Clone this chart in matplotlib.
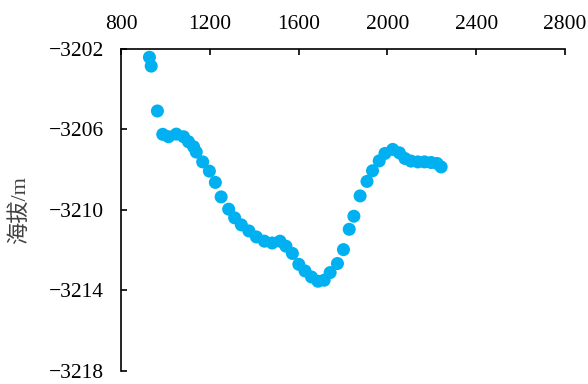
import matplotlib
matplotlib.use("Agg")
from matplotlib import pyplot as plt

# distance along the profile and elevation
dist = [928, 936, 964, 988, 1014, 1049, 1082, 1104, 1127, 1139, 1168, 1198,
        1225, 1251, 1285, 1312, 1342, 1376, 1410, 1446, 1481, 1516, 1543, 1572,
        1601, 1629, 1658, 1687, 1715, 1742, 1775, 1802, 1828, 1849, 1877, 1908,
        1933, 1963, 1989, 2024, 2054, 2079, 2106, 2137, 2167, 2197, 2224, 2242]
elev = [-3202.41, -3202.85, -3205.08, -3206.24, -3206.36, -3206.23, -3206.36,
        -3206.61, -3206.86, -3207.12, -3207.61, -3208.07, -3208.63, -3209.35,
        -3209.96, -3210.39, -3210.74, -3211.04, -3211.34, -3211.55, -3211.64,
        -3211.55, -3211.80, -3212.16, -3212.70, -3213.03, -3213.33, -3213.54,
        -3213.49, -3213.11, -3212.66, -3211.97, -3210.96, -3210.31, -3209.30,
        -3208.58, -3208.05, -3207.56, -3207.19, -3206.99, -3207.16, -3207.44,
        -3207.57, -3207.61, -3207.61, -3207.64, -3207.69, -3207.86]

xticks = [800, 1200, 1600, 2000, 2400, 2800]
yticks = [-3202, -3206, -3210, -3214, -3218]

plt.rcParams['font.family'] = ['Liberation Serif', 'Noto Sans CJK SC']

fig = plt.figure(figsize=(5.88, 3.84), dpi=100)
ax = fig.add_axes([0.2058, 0.0339, 0.7551, 0.8385])

ax.scatter(dist, elev, s=88, color="#00B0F0", edgecolors="none", zorder=3)

ax.set_xlim(800, 2800)
ax.set_ylim(-3218, -3202)
ax.set_xticks(xticks)
ax.set_yticks(yticks)

# x axis on top, only left and top lines
ax.xaxis.tick_top()
ax.spines['right'].set_visible(False)
ax.spines['bottom'].set_visible(False)
for side in ['left', 'top']:
    ax.spines[side].set_linewidth(1.2)
ax.tick_params(axis='both', direction='in', length=4, width=1.2, labelsize=15.5)
ax.tick_params(axis='x', pad=11)
ax.tick_params(axis='y', pad=12)

ax.set_ylabel("海拔/m", fontsize=16, color="#404040")
ax.yaxis.set_label_coords(-0.205, 0.5)

fig.savefig("out.png", dpi=100)
